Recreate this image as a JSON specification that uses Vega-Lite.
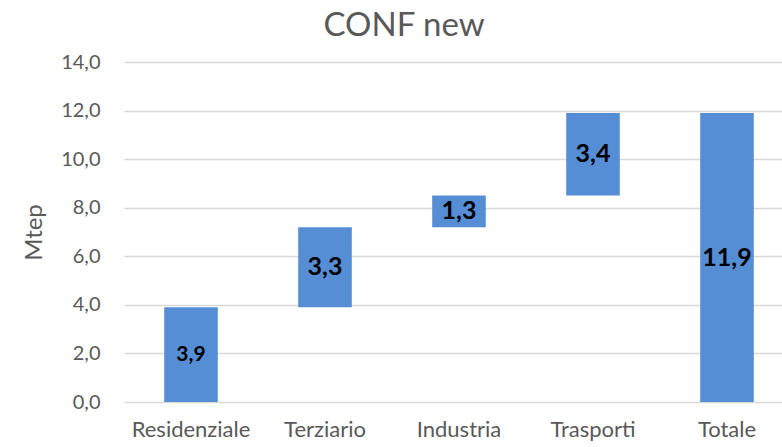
{
  "$schema": "https://vega.github.io/schema/vega-lite/v6.json",
  "width": 658,
  "height": 340,
  "autosize": {"type": "none"},
  "padding": {"left": 124, "top": 62, "right": 0, "bottom": 45},
  "background": "white",
  "config": {
    "locale": {"number": {"decimal": ",", "thousands": ".", "grouping": [3], "currency": ["€", ""]}},
    "view": {"stroke": null},
    "font": "Lato"
  },
  "title": {
    "text": "CONF new",
    "fontSize": 33,
    "fontWeight": "normal",
    "color": "#595959",
    "font": "Lato",
    "anchor": "middle",
    "dx": -49,
    "offset": 9
  },
  "data": {
    "values": [
      {"categoria": "Residenziale", "inizio": 0, "fine": 3.9, "valore": 3.9},
      {"categoria": "Terziario", "inizio": 3.9, "fine": 7.2, "valore": 3.3},
      {"categoria": "Industria", "inizio": 7.2, "fine": 8.5, "valore": 1.3},
      {"categoria": "Trasporti", "inizio": 8.5, "fine": 11.9, "valore": 3.4},
      {"categoria": "Totale", "inizio": 0, "fine": 11.9, "valore": 11.9}
    ]
  },
  "encoding": {
    "x": {
      "field": "categoria",
      "type": "nominal",
      "sort": null,
      "title": null,
      "scale": {"range": [0, 670], "paddingInner": 0, "paddingOuter": 0},
      "axis": {
        "labelAngle": 0,
        "labelFontSize": 22,
        "labelColor": "#595959",
        "labelPadding": 17,
        "ticks": false,
        "domain": false,
        "labelFont": "Lato"
      }
    }
  },
  "layer": [
    {
      "mark": {"type": "bar", "color": "#558ed5", "width": {"band": 0.4}},
      "encoding": {
        "y": {
          "field": "inizio",
          "type": "quantitative",
          "scale": {"domain": [0, 14], "nice": false},
          "title": "Mtep",
          "axis": {
            "values": [0, 2, 4, 6, 8, 10, 12, 14],
            "format": ".1f",
            "labelFontSize": 20,
            "labelColor": "#595959",
            "labelPadding": 24,
            "labelFont": "Lato",
            "ticks": false,
            "domain": false,
            "grid": true,
            "gridColor": "#d9d9d9",
            "gridWidth": 1.5,
            "titleFontSize": 24,
            "titleFontWeight": "normal",
            "titleColor": "#595959",
            "titleFont": "Lato",
            "titlePadding": 14
          }
        },
        "y2": {"field": "fine"}
      }
    },
    {
      "transform": [
        {"filter": "datum.categoria === 'Residenziale'"},
        {"calculate": "(datum.inizio + datum.fine) / 2", "as": "centro"}
      ],
      "mark": {"type": "text", "fontSize": 21, "fontWeight": "bold", "color": "black", "font": "Lato"},
      "encoding": {
        "y": {"field": "centro", "type": "quantitative"},
        "text": {"field": "valore", "type": "quantitative", "format": ".1f"}
      }
    },
    {
      "transform": [
        {"filter": "datum.categoria !== 'Residenziale'"},
        {"calculate": "(datum.inizio + datum.fine) / 2", "as": "centro"}
      ],
      "mark": {"type": "text", "fontSize": 25, "fontWeight": "bold", "color": "black", "font": "Lato"},
      "encoding": {
        "y": {"field": "centro", "type": "quantitative"},
        "text": {"field": "valore", "type": "quantitative", "format": ".1f"}
      }
    }
  ]
}
